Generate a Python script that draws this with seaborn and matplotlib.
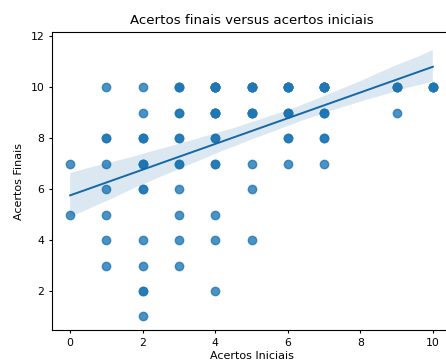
"""Scatter + regression: acertos finais vs acertos iniciais."""

import matplotlib

matplotlib.use("Agg")
import matplotlib.pyplot as plt
import numpy as np
import pandas as pd
import seaborn as sns

# (acertos iniciais, acertos finais, how many students share that pair)
iniciais = [0, 0,
            1, 1, 1, 1, 1, 1, 1,
            2, 2, 2, 2, 2, 2, 2, 2, 2,
            3, 3, 3, 3, 3, 3, 3, 3,
            4, 4, 4, 4, 4, 4, 4,
            5, 5, 5, 5, 5,
            6, 6, 6, 6,
            7, 7, 7, 7,
            9, 9,
            10]
finais = [7, 5,
          10, 8, 7, 6, 5, 4, 3,
          10, 9, 8, 7, 6, 4, 3, 2, 1,
          10, 9, 8, 7, 6, 5, 4, 3,
          10, 9, 8, 7, 5, 4, 2,
          10, 9, 7, 6, 4,
          10, 9, 8, 7,
          10, 9, 8, 7,
          10, 9,
          10]
repeticoes = [1, 1,
              1, 2, 1, 1, 1, 1, 1,
              1, 1, 3, 3, 2, 1, 1, 2, 1,
              3, 2, 2, 2, 1, 1, 1, 1,
              7, 5, 2, 2, 1, 1, 1,
              5, 4, 1, 1, 1,
              6, 3, 2, 1,
              7, 3, 2, 1,
              4, 1,
              4]

df = pd.DataFrame({"Acertos Iniciais": iniciais, "Acertos Finais": finais})
df = df.loc[df.index.repeat(repeticoes)].reset_index(drop=True)

fig = plt.figure(figsize=(4.46, 3.63), dpi=100)
ax = fig.add_axes([52 / 446, 1 - 330 / 363, (451 - 52) / 446, 298 / 363])

sns.regplot(data=df, x="Acertos Iniciais", y="Acertos Finais", ax=ax, seed=3,
            line_kws={"lw": 1.4, "color": "#1667a6"})

ax.set_xlim(-0.5, 10.5)
ax.set_ylim(0.47, 12.16)
ax.set_xticks([0, 2, 4, 6, 8, 10])
ax.set_yticks([2, 4, 6, 8, 10, 12])
ax.tick_params(labelsize=7.8, length=2.5, pad=3)
ax.set_xlabel("Acertos Iniciais", fontsize=8, labelpad=2.5)
ax.set_ylabel("Acertos Finais", fontsize=8, labelpad=5)
ax.set_title("Acertos finais versus acertos iniciais", fontsize=9.6, pad=6)

fig.savefig("out.png", dpi=100)
